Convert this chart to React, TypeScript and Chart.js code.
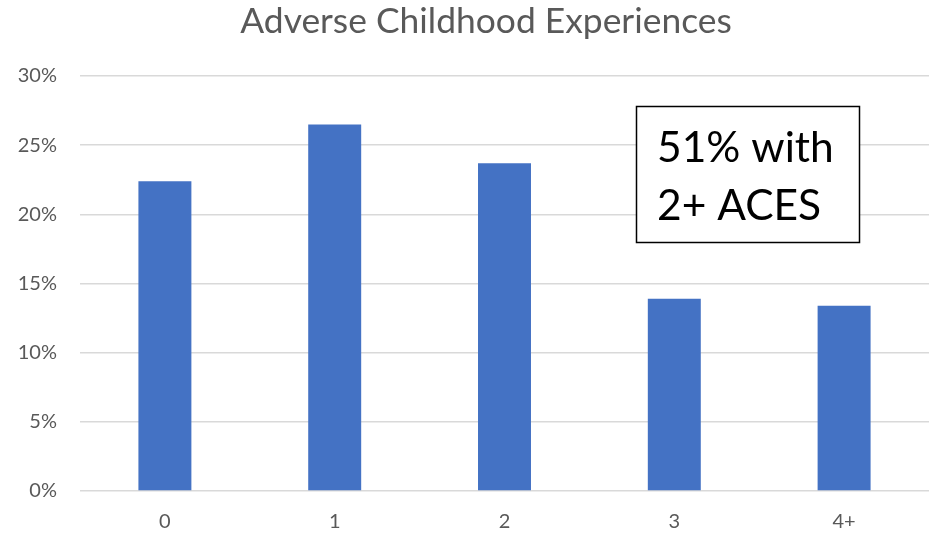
import React, { useEffect, useRef } from "react";
import { Chart, registerables } from "chart.js";

Chart.register(...registerables);

const categories = ["0", "1", "2", "3", "4+"];
const shares = [22.4, 26.5, 23.7, 13.9, 13.4];
const yTicks = [0, 5, 10, 15, 20, 25, 30];
const titleText = "Adverse Childhood Experiences";
const calloutLines = ["51% with", "2+ ACES"];

const FONT = "Lato, 'Open Sans', sans-serif";
const GREY_TEXT = "#595959";

const titlePlugin = {
  id: "topTitle",
  afterDraw(chart: Chart) {
    const ctx = chart.ctx;
    ctx.save();
    ctx.fillStyle = GREY_TEXT;
    ctx.font = `35.4px ${FONT}`;
    ctx.textAlign = "center";
    ctx.textBaseline = "alphabetic";
    ctx.fillText(titleText, 486, 33);
    ctx.restore();
  },
};

const calloutPlugin = {
  id: "callout",
  afterDraw(chart: Chart) {
    const ctx = chart.ctx;
    const x = 636.5;
    const y = 106.5;
    const w = 223;
    const h = 136;
    ctx.save();
    ctx.fillStyle = "#ffffff";
    ctx.fillRect(x, y, w, h);
    ctx.strokeStyle = "#000000";
    ctx.lineWidth = 1.5;
    ctx.strokeRect(x, y, w, h);
    ctx.fillStyle = "#000000";
    ctx.font = `42.5px ${FONT}`;
    ctx.textAlign = "left";
    ctx.textBaseline = "alphabetic";
    calloutLines.forEach((line, i) => {
      ctx.fillText(line, 657, 162 + i * 58);
    });
    ctx.restore();
  },
};

export default function App() {
  const canvasRef = useRef<HTMLCanvasElement | null>(null);

  useEffect(() => {
    document.body.style.margin = "0";
    const canvas = canvasRef.current;
    if (!canvas) return;
    const chart = new Chart(canvas, {
      type: "bar",
      data: {
        labels: categories,
        datasets: [
          {
            data: shares,
            backgroundColor: "#4472C4",
            borderWidth: 0,
            categoryPercentage: 1,
            barPercentage: 0.312,
          },
        ],
      },
      options: {
        animation: false,
        responsive: false,
        maintainAspectRatio: false,
        layout: { padding: { top: 76, right: 9, bottom: 0, left: 0 } },
        plugins: {
          legend: { display: false },
          title: { display: false },
          tooltip: { enabled: false },
        },
        scales: {
          x: {
            grid: { display: false },
            border: { display: false },
            ticks: {
              color: GREY_TEXT,
              font: { family: FONT, size: 20 },
              padding: 11,
            },
            afterFit: (scale: any) => {
              scale.height = 42;
            },
          },
          y: {
            min: 0,
            max: 30,
            afterBuildTicks: (scale: any) => {
              scale.ticks = yTicks.map((v) => ({ value: v }));
            },
            grid: { color: "#D9D9D9", lineWidth: 1.5, drawTicks: false },
            border: { display: false },
            ticks: {
              color: GREY_TEXT,
              font: { family: FONT, size: 20 },
              padding: 23,
              callback: (v: any) => `${v}%`,
            },
            afterFit: (scale: any) => {
              scale.width = 80;
            },
          },
        },
      },
      plugins: [titlePlugin, calloutPlugin],
    });
    return () => chart.destroy();
  }, []);

  return (
    <div style={{ position: "fixed", left: 0, top: 0, width: 938, height: 533, background: "#fff" }}>
      <canvas ref={canvasRef} width={938} height={533} style={{ width: 938, height: 533, display: "block" }} />
    </div>
  );
}
